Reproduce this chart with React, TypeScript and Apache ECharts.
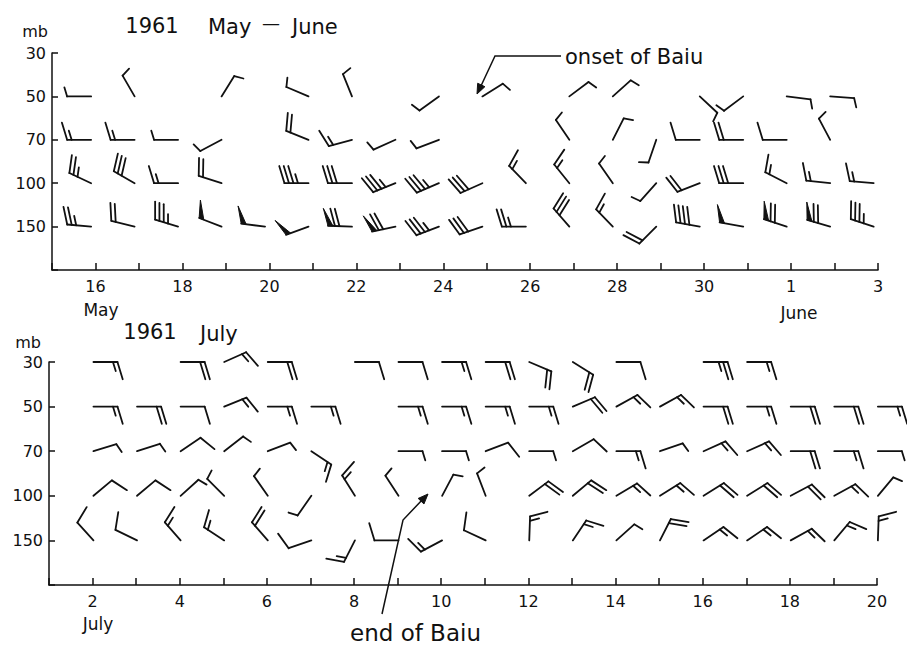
import React, { useEffect, useRef } from 'react';
import * as echarts from 'echarts';

// ---------- categories / tick labels ----------
const levelLabels = ['30', '50', '70', '100', '150'];
const mayJuneDays = [16, 17, 18, 19, 20, 21, 22, 23, 24, 25, 26, 27, 28, 29, 30, 31, 32, 33, 34]; // 32 = 1 June
const mayJuneLabelDays = [16, 18, 20, 22, 24, 26, 28, 30, 32, 34];
const mayJuneLabelText = ['16', '18', '20', '22', '24', '26', '28', '30', '1', '3'];
const julyDays = [2, 3, 4, 5, 6, 7, 8, 9, 10, 11, 12, 13, 14, 15, 16, 17, 18, 19, 20];
const julyLabelDays = [2, 4, 6, 8, 10, 12, 14, 16, 18, 20];
const julyLabelText = ['2', '4', '6', '8', '10', '12', '14', '16', '18', '20'];

// ---------- May–June 1961: wind direction (deg, from) and speed ----------
const mj50Dir = [270, 330, null, 32, null, 293, 338, null, 234, 58, null, 53, 48, null, 133, 233, 97, 94, null];
const mj50Spd = [5, 5, null, 5, null, 5, 5, null, 5, 5, null, 5, 5, null, 5, 5, 5, 5, null];
const mj70Dir = [270, 270, 270, 242, null, 292, 255, 246, 249, null, null, 326, 27, 199, 270, 270, 270, 332, null];
const mj70Spd = [15, 15, 5, 5, null, 20, 15, 5, 5, null, null, 5, 5, 5, 10, 20, 10, 5, null];
const mj100Dir = [295, 300, 270, 288, null, 270, 270, 248, 247, 246, 316, 321, 325, 222, 249, 270, 297, 276, 275];
const mj100Spd = [25, 30, 15, 20, null, 35, 30, 35, 35, 30, 15, 15, 5, 5, 20, 30, 15, 15, 15];
const mj150Dir = [275, 284, 287, 291, 277, 250, 272, 258, 249, 251, 270, 319, 316, 225, 280, 280, 288, 286, 288];
const mj150Spd = [25, 20, 35, 50, 50, 50, 70, 70, 35, 30, 25, 30, 15, 20, 40, 50, 70, 70, 35];

// ---------- July 1961 ----------
const jl30Dir = [90, null, 90, 66, 90, null, 90, 90, 90, 90, 113, 122, 90, null, 90, 90, null, null, null];
const jl30Spd = [15, null, 20, 15, 20, null, 10, 10, 15, 20, 20, 20, 10, null, 25, 15, null, null, null];
const jl50Dir = [90, 90, 90, 68, 90, 90, null, 90, 90, 90, 90, 67, 61, 61, 90, 90, 90, 90, 90];
const jl50Spd = [15, 20, 10, 15, 15, 15, null, 15, 15, 15, 15, 20, 15, 15, 20, 15, 20, 20, 15];
const jl70Dir = [73, 72, 56, 52, 69, 124, null, 90, 90, 69, 90, 60, 90, 71, 66, 66, 90, 90, 90];
const jl70Spd = [5, 5, 10, 5, 5, 15, null, 5, 5, 10, 5, 10, 15, 5, 15, 15, 20, 15, 5];
const jl100Dir = [50, 50, 48, 315, 325, 215, 328, 327, 28, 339, 53, 50, 59, 58, 58, 58, 62, 61, 40];
const jl100Spd = [10, 10, 5, 5, 5, 5, 15, 5, 5, 5, 20, 20, 15, 15, 20, 20, 20, 15, 5];
const jl150Dir = [318, 296, 319, 303, 319, 251, 207, 270, 242, 295, 2, 34, 48, 27, 56, 56, 61, 40, 2];
const jl150Spd = [10, 10, 15, 15, 20, 10, 15, 10, 15, 10, 15, 15, 5, 20, 15, 15, 15, 15, 15];

const MAY_OBS_SHIFT = -0.1;
const JULY_OBS_SHIFT = 0.02;

const INK = '#111';
const FONT = '"DejaVu Sans", sans-serif';

const BARB = { shaft: 24, full: 18, half: 9.5, gap: 4.5, pennantW: 5, angle: 73, width: 1.8 };

function buildBarbData(days: number[], shift: number, levels: Array<[number, (number | null)[], (number | null)[]]>) {
  const out: number[][] = [];
  levels.forEach(([li, dirs, spds]) => {
    days.forEach((d, i) => {
      const dir = dirs[i];
      const sp = spds[i];
      if (dir == null || sp == null) return;
      out.push([d + shift, li, dir, sp]);
    });
  });
  return out;
}

function renderBarb(params: any, api: any) {
  const x = api.value(0);
  const y = api.value(1);
  const dir = api.value(2);
  const spd = api.value(3);
  const p = api.coord([x, y]);
  const px = p[0], py = p[1];
  const a = (dir * Math.PI) / 180;
  const sx = Math.sin(a), sy = -Math.cos(a);
  const tx = px + BARB.shaft * sx, ty = py + BARB.shaft * sy;
  const fa = ((dir + BARB.angle) * Math.PI) / 180;
  const fx = Math.sin(fa), fy = -Math.cos(fa);
  const lineStyle = { stroke: INK, lineWidth: BARB.width, lineCap: 'round' };
  const children: any[] = [
    { type: 'line', shape: { x1: px, y1: py, x2: tx, y2: ty }, style: lineStyle },
  ];
  let rem = spd;
  const pennants = Math.floor(rem / 50);
  rem -= pennants * 50;
  const fulls = Math.floor(rem / 10);
  rem -= fulls * 10;
  const halves = rem >= 5 ? 1 : 0;
  let pos = 0;
  for (let k = 0; k < pennants; k++) {
    const b0x = tx - pos * sx, b0y = ty - pos * sy;
    const b1x = tx - (pos + BARB.pennantW) * sx, b1y = ty - (pos + BARB.pennantW) * sy;
    const apx = b0x + BARB.full * fx, apy = b0y + BARB.full * fy;
    children.push({
      type: 'polygon',
      shape: { points: [[b0x, b0y], [apx, apy], [b1x, b1y]] },
      style: { fill: INK, stroke: INK, lineWidth: 1 },
    });
    pos += BARB.pennantW + 2;
  }
  for (let k = 0; k < fulls; k++) {
    const bx = tx - pos * sx, by = ty - pos * sy;
    children.push({ type: 'line', shape: { x1: bx, y1: by, x2: bx + BARB.full * fx, y2: by + BARB.full * fy }, style: lineStyle });
    pos += BARB.gap;
  }
  for (let k = 0; k < halves; k++) {
    const bx = tx - pos * sx, by = ty - pos * sy;
    children.push({ type: 'line', shape: { x1: bx, y1: by, x2: bx + BARB.half * fx, y2: by + BARB.half * fy }, style: lineStyle });
    pos += BARB.gap;
  }
  return { type: 'group', children };
}

function arrowHead(tip: number[], from: number[], len = 10, half = 4) {
  const dx = tip[0] - from[0], dy = tip[1] - from[1];
  const L = Math.hypot(dx, dy);
  const ux = dx / L, uy = dy / L;
  const bx = tip[0] - ux * len, by = tip[1] - uy * len;
  const qx = -uy, qy = ux;
  return {
    type: 'polygon',
    shape: { points: [tip, [bx + qx * half, by + qy * half], [bx - qx * half, by - qy * half]] },
    style: { fill: INK, stroke: INK, lineWidth: 1 },
  };
}

function txt(text: string, x: number, y: number, size: number, align = 'center') {
  return {
    type: 'text',
    x,
    y,
    style: {
      text,
      font: `${size}px ${FONT}`,
      fill: INK,
      textAlign: align,
      textVerticalAlign: 'middle',
      align,
      verticalAlign: 'middle',
    },
  };
}

function makeXAxis(gridIndex: number, min: number, max: number, labelDays: number[], labelText: string[]) {
  return {
    type: 'value',
    gridIndex,
    position: 'bottom',
    min,
    max,
    interval: 1,
    axisLine: { show: true, onZero: false, lineStyle: { color: INK, width: 1.5 } },
    axisTick: { show: true, inside: true, length: 7, lineStyle: { color: INK, width: 1.5 } },
    splitLine: { show: false },
    axisLabel: {
      show: true,
      margin: 8,
      fontSize: 16,
      fontFamily: FONT,
      color: INK,
      formatter: (v: number) => {
        const k = labelDays.indexOf(Math.round(v));
        return k >= 0 ? labelText[k] : '';
      },
    },
  };
}

function makeYAxis(gridIndex: number) {
  return {
    type: 'value',
    gridIndex,
    position: 'left',
    min: 0,
    max: 5,
    interval: 1,
    inverse: true,
    axisLine: { show: true, onZero: false, lineStyle: { color: INK, width: 1.5 } },
    axisTick: { show: true, inside: true, length: 6, lineStyle: { color: INK, width: 1.5 } },
    splitLine: { show: false },
    axisLabel: {
      show: true,
      margin: 6,
      fontSize: 16,
      fontFamily: FONT,
      color: INK,
      formatter: (v: number) => levelLabels[Math.round(v)] ?? '',
    },
  };
}

export default function App() {
  const ref = useRef<HTMLDivElement>(null);
  useEffect(() => {
    if (!ref.current) return;
    const chart = echarts.init(ref.current, null, { renderer: 'svg' });

    const mayData = buildBarbData(mayJuneDays, MAY_OBS_SHIFT, [
      [1, mj50Dir, mj50Spd],
      [2, mj70Dir, mj70Spd],
      [3, mj100Dir, mj100Spd],
      [4, mj150Dir, mj150Spd],
    ]);
    const julyData = buildBarbData(julyDays, JULY_OBS_SHIFT, [
      [0, jl30Dir, jl30Spd],
      [1, jl50Dir, jl50Spd],
      [2, jl70Dir, jl70Spd],
      [3, jl100Dir, jl100Spd],
      [4, jl150Dir, jl150Spd],
    ]);

    const onsetPts = [[561, 56], [495, 56], [480, 88]];
    const endPts = [[382, 614], [403, 520], [423, 499]];

    chart.setOption({
      animation: false,
      backgroundColor: '#fff',
      grid: [
        { left: 52, top: 53, width: 826, height: 217 },
        { left: 49, top: 362, width: 828, height: 223 },
      ],
      xAxis: [
        makeXAxis(0, 15, 34, mayJuneLabelDays, mayJuneLabelText),
        makeXAxis(1, 1, 20, julyLabelDays, julyLabelText),
      ],
      yAxis: [makeYAxis(0), makeYAxis(1)],
      series: [
        { type: 'custom', xAxisIndex: 0, yAxisIndex: 0, renderItem: renderBarb, data: mayData, silent: true, clip: false },
        { type: 'custom', xAxisIndex: 1, yAxisIndex: 1, renderItem: renderBarb, data: julyData, silent: true, clip: false },
      ],
      graphic: [
        txt('mb', 35, 31, 16),
        txt('1961', 152, 26, 21),
        txt('May', 208, 27, 21, 'left'),
        txt('—', 271, 22, 18),
        txt('June', 292, 27, 21, 'left'),
        txt('May', 101, 310, 17),
        txt('June', 799, 313, 17),
        txt('onset of Baiu', 565, 57, 21, 'left'),
        { type: 'polyline', shape: { points: onsetPts }, style: { stroke: INK, lineWidth: 1.5, fill: 'none' } },
        arrowHead([477, 94], [495, 56]),
        txt('mb', 28, 342, 16),
        txt('1961', 150, 332, 21),
        txt('July', 200, 334, 21, 'left'),
        txt('July', 98, 624, 17),
        txt('end of Baiu', 350, 633, 23, 'left'),
        { type: 'polyline', shape: { points: endPts }, style: { stroke: INK, lineWidth: 1.5, fill: 'none' } },
        arrowHead([428, 494], [403, 520]),
      ],
    });
    return () => chart.dispose();
  }, []);
  return (
    <div
      ref={ref}
      style={{ position: 'fixed', left: 0, top: 0, width: 907, height: 649, background: '#fff' }}
    />
  );
}
